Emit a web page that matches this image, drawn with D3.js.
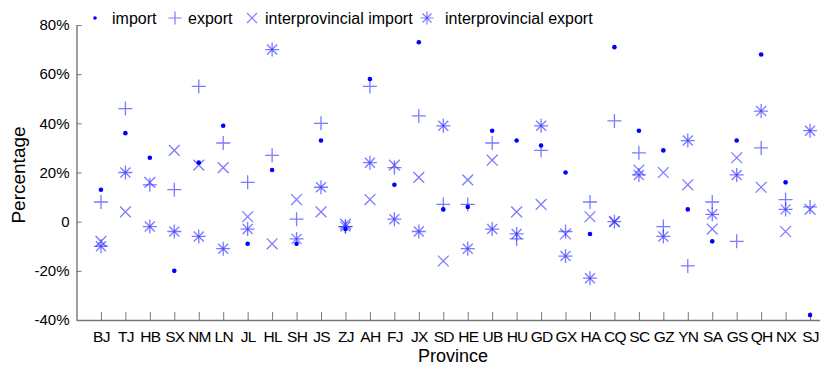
<!DOCTYPE html>
<html>
<head>
<meta charset="utf-8">
<script src="https://cdn.jsdelivr.net/npm/d3@7"></script>
<style>
  body { margin: 0; background: #fff; }
  svg { display: block; font-family: Arial, "Liberation Sans", sans-serif; }
</style>
</head>
<body>
<div id="chart"></div>
<script>
const provinces = ['BJ', 'TJ', 'HB', 'SX', 'NM', 'LN', 'JL', 'HL', 'SH', 'JS', 'ZJ', 'AH', 'FJ', 'JX', 'SD',
  'HE', 'UB', 'HU', 'GD', 'GX', 'HA', 'CQ', 'SC', 'GZ', 'YN', 'SA', 'GS', 'QH', 'NX', 'SJ'];

// values in percent, one per province
const importVals = [13, 36, 26, -20, 24, 39, -9, 21, -9, 33, -3, 58, 15, 73, 5,
  6, 37, 33, 31, 20, -5, 71, 37, 29, 5, -8, 33, 68, 16, -38];
const exportVals = [8, 46, 15, 13, 55, 32, 16, 27, 1, 40, -2, 55, 22, 43, 7,
  7, 32, -7, 29, -4, 8, 41, 28, -2, -18, 8, -8, 30, 9, 6];
const interImportVals = [-8, 4, 16, 29, 23, 22, 2, -9, 9, 4, -1, 9, 23, 18, -16,
  17, 25, 4, 7, -5, 2, 0, 21, 20, 15, -3, 26, 14, -4, 5];
const interExportVals = [-10, 20, -2, -4, -6, -11, -3, 70, -7, 14, -2, 24, 1, -4, 39,
  -11, -3, -5, 39, -14, -23, 0, 19, -6, 33, 3, 19, 45, 5, 37];

const yTicks = [-40, -20, 0, 20, 40, 60, 80];
const seriesNames = ['import', 'export', 'interprovincial import', 'interprovincial export'];

const width = 820, height = 367;
const svg = d3.select('#chart').append('svg')
  .attr('width', width)
  .attr('height', height);

// x is index based, provinces sit at 1..30
const x = d3.scaleLinear().domain([0, 31]).range([76.5, 834.5]);
const y = d3.scaleLinear().domain([-40, 80]).range([320, 25]);

const markColor = '#2a2aff';
const markOpacity = 0.62;

// marker path helpers (relative to 0,0)
const plusPath = (r) => `M${-r},0H${r}M0,${-r}V${r}`;
const timesPath = (r) => `M${-r},${-r}L${r},${r}M${-r},${r}L${r},${-r}`;

//add X-axis
const xAxis = svg.append('g')
  .attr('transform', `translate(0, ${y(-40)})`)
  .call(d3.axisBottom(x)
    .tickValues(d3.range(1, 31))
    .tickFormat((i) => provinces[i - 1])
    .tickSizeInner(-8)
    .tickSizeOuter(0)
    .tickPadding(11));
xAxis.select('.domain').attr('stroke', '#777').attr('stroke-width', 1.4);
xAxis.selectAll('.tick line').attr('stroke', '#777');
xAxis.selectAll('text')
  .style('font-size', '15.5px')
  .style('letter-spacing', '-0.7px')
  .attr('fill', '#000');

//add Y-axis
const yAxis = svg.append('g')
  .attr('transform', `translate(${x(0)}, 0)`)
  .call(d3.axisLeft(y)
    .tickValues(yTicks)
    .tickFormat((d) => (d === 0 ? '0' : d + '%'))
    .tickSizeInner(-5)
    .tickSizeOuter(0)
    .tickPadding(7));
yAxis.select('.domain').attr('stroke', '#777').attr('stroke-width', 1.4);
yAxis.selectAll('.tick line').attr('stroke', '#777');
yAxis.selectAll('text')
  .style('font-size', '15px')
  .attr('fill', '#000');

// axis labels
svg.append('text')
  .attr('x', 453)
  .attr('y', 362)
  .attr('text-anchor', 'middle')
  .style('font-size', '18px')
  .attr('fill', '#000')
  .text('Province');

svg.append('text')
  .attr('transform', 'rotate(-90)')
  .attr('x', -175)
  .attr('y', 25)
  .attr('text-anchor', 'middle')
  .style('font-size', '19px')
  .attr('fill', '#000')
  .text('Percentage');

const plot = svg.append('g');

// export (+)
plot.selectAll('.exp')
  .data(exportVals)
  .enter()
  .append('path')
  .attr('transform', (d, i) => `translate(${x(i + 1)}, ${y(d)})`)
  .attr('d', plusPath(7))
  .attr('fill', 'none')
  .attr('stroke', markColor)
  .attr('stroke-opacity', markOpacity)
  .attr('stroke-width', 1.3);

// interprovincial import (x)
plot.selectAll('.iimp')
  .data(interImportVals)
  .enter()
  .append('path')
  .attr('transform', (d, i) => `translate(${x(i + 1)}, ${y(d)})`)
  .attr('d', timesPath(5.4))
  .attr('fill', 'none')
  .attr('stroke', markColor)
  .attr('stroke-opacity', markOpacity)
  .attr('stroke-width', 1.3);

// interprovincial export (*), drawn as + and x so the centre gets darker
const stars = plot.selectAll('.iexp')
  .data(interExportVals)
  .enter()
  .append('g')
  .attr('transform', (d, i) => `translate(${x(i + 1)}, ${y(d)})`);
stars.append('path')
  .attr('d', plusPath(7))
  .attr('fill', 'none')
  .attr('stroke', markColor)
  .attr('stroke-opacity', markOpacity)
  .attr('stroke-width', 1.3);
stars.append('path')
  .attr('d', timesPath(5))
  .attr('fill', 'none')
  .attr('stroke', markColor)
  .attr('stroke-opacity', markOpacity)
  .attr('stroke-width', 1.3);

// import (dots)
plot.selectAll('.imp')
  .data(importVals)
  .enter()
  .append('circle')
  .attr('cx', (d, i) => x(i + 1))
  .attr('cy', (d) => y(d))
  .attr('r', 2.3)
  .attr('fill', '#0000ff');

// legend
const legendMarkX = [95, 175, 252, 427];
const legendTextX = [112, 188, 265, 445];
const legend = svg.append('g');
seriesNames.forEach((name, k) => {
  const g = legend.append('g').attr('transform', `translate(${legendMarkX[k]}, 18)`);
  if (k === 0) {
    g.append('circle').attr('r', 1.8).attr('fill', '#0000ff');
  } else {
    if (k !== 2) {
      g.append('path').attr('d', plusPath(6.5))
        .attr('fill', 'none').attr('stroke', markColor)
        .attr('stroke-opacity', markOpacity).attr('stroke-width', 1.2);
    }
    if (k !== 1) {
      g.append('path').attr('d', timesPath(k === 2 ? 5 : 4.5))
        .attr('fill', 'none').attr('stroke', markColor)
        .attr('stroke-opacity', markOpacity).attr('stroke-width', 1.2);
    }
  }
  legend.append('text')
    .attr('x', legendTextX[k])
    .attr('y', 24)
    .style('font-size', '16px')
    .attr('fill', '#000')
    .text(name);
});
</script>
</body>
</html>
